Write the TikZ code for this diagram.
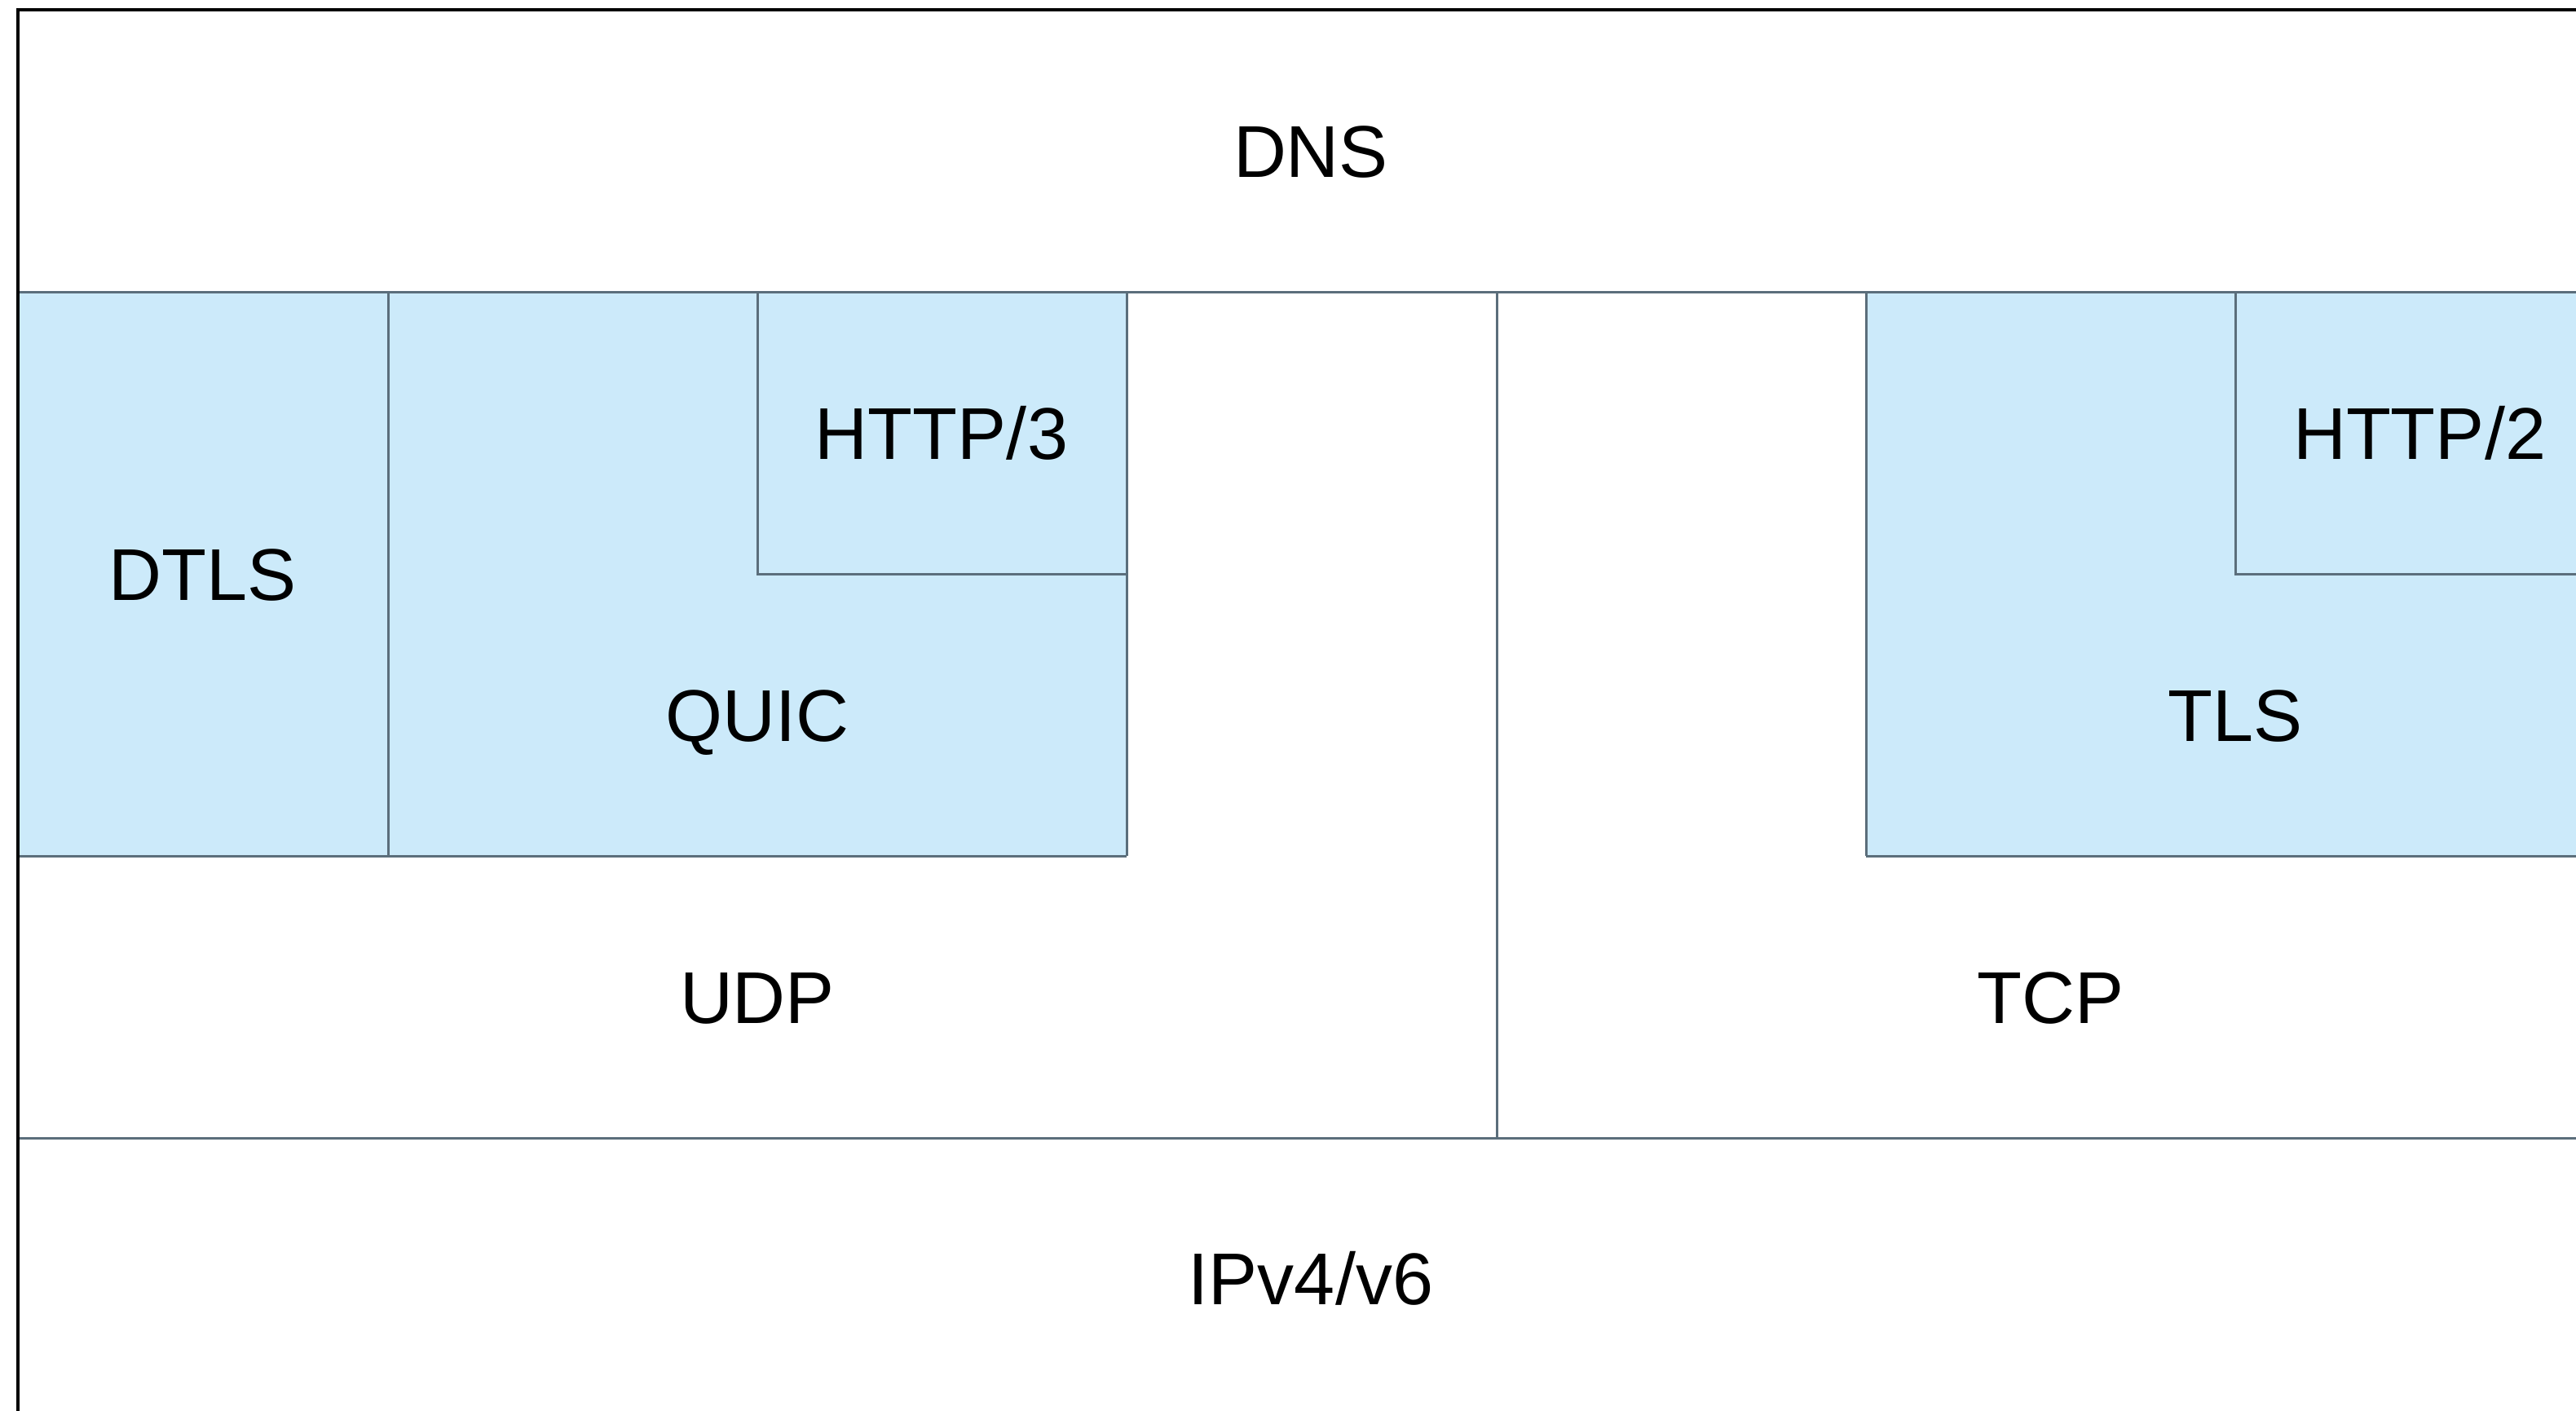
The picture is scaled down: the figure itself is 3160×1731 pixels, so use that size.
\documentclass[tikz,border=0pt]{standalone}
\usepackage{fontspec}
\setmainfont{Liberation Sans}
\definecolor{gridline}{HTML}{5B6E7B}
\definecolor{layerfill}{HTML}{CCEAFA}
\tikzset{
  lbl/.style={font=\fontsize{90}{108}\selectfont, inner sep=0pt, anchor=base},
  gline/.style={draw=gridline, line width=3pt},
  frameline/.style={draw=black, line width=3.5pt},
}
\begin{document}
\begin{tikzpicture}[x=1pt,y=-1pt]
\useasboundingbox (0,0) rectangle (3160,1731);
\clip (0,0) rectangle (3160,1731);
\fill[white] (0,0) rectangle (3160,1731);
% blue fills
\fill[layerfill] (22,358) rectangle (1382,1050);
\fill[layerfill] (2289,358) rectangle (3220,1050);
% grid lines
\draw[gline] (22,358) -- (3220,358);
\draw[gline] (22,1396) -- (3220,1396);
\draw[gline] (22,1050) -- (1382,1050);
\draw[gline] (2289,1050) -- (3220,1050);
\draw[gline] (476,358) -- (476,1050);
\draw[gline] (929,358) -- (929,704) -- (1382,704);
\draw[gline] (1382,358) -- (1382,1050);
\draw[gline] (1836,358) -- (1836,1396);
\draw[gline] (2289,358) -- (2289,1050);
\draw[gline] (2742,358) -- (2742,704) -- (3220,704);
% frame
\draw[frameline] (22,1760) -- (22,12) -- (3220,12);
% labels
\node[lbl] (dns)   at (1608,217)  {DNS};
\node[lbl] (dtls)  at (249,736)   {DTLS};
\node[lbl] (http3) at (1155,563)  {HTTP/3};
\node[lbl] (quic)  at (929,909)   {QUIC};
\node[lbl] (http2) at (2968,563)  {HTTP/2};
\node[lbl] (tls)   at (2742,909)  {TLS};
\node[lbl] (udp)   at (929,1255)  {UDP};
\node[lbl] (tcp)   at (2515,1255) {TCP};
\node[lbl] (ip)    at (1608,1600) {IPv4/v6};
\end{tikzpicture}
\end{document}
